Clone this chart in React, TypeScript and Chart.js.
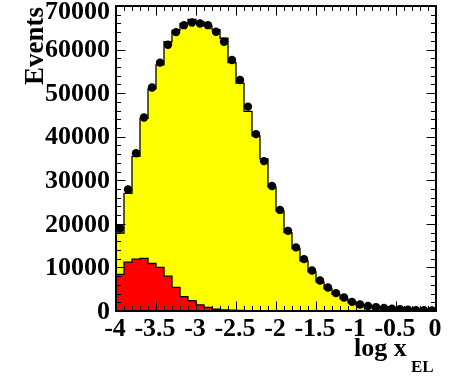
import React, { useEffect, useRef } from "react";
import { Chart, registerables } from "chart.js";

Chart.register(...registerables);

// Bin edges of log x_EL (40 bins from -4 to 0)
const binEdges = [
  -4.0, -3.9, -3.8, -3.7, -3.6, -3.5, -3.4, -3.3, -3.2, -3.1,
  -3.0, -2.9, -2.8, -2.7, -2.6, -2.5, -2.4, -2.3, -2.2, -2.1,
  -2.0, -1.9, -1.8, -1.7, -1.6, -1.5, -1.4, -1.3, -1.2, -1.1,
  -1.0, -0.9, -0.8, -0.7, -0.6, -0.5, -0.4, -0.3, -0.2, -0.1, 0.0,
];

// Data points (black markers)
const dataValues = [
  19000, 27900, 36200, 44400, 51300, 57000, 61100, 64000, 65600, 66200,
  66000, 65600, 64100, 61800, 57600, 53000, 46900, 40600, 34400, 28700,
  23200, 18400, 14600, 11900, 9300, 7000, 5400, 4100, 3100, 2100,
  1500, 1150, 900, 700, 500, 400, 300, 200, 200, 150,
];

// Yellow histogram (total MC)
const yellowValues = [
  17900, 27000, 35500, 44200, 51000, 56500, 61800, 64400, 66000, 66900,
  66400, 65400, 64600, 62600, 57000, 52300, 45800, 40200, 34900, 28500,
  23000, 18000, 14300, 11500, 9000, 6700, 5100, 3800, 2800, 1900,
  1300, 900, 650, 450, 300, 200, 150, 100, 80, 50,
];

// Red histogram (component)
const redValues = [
  8400, 11200, 11900, 12100, 10900, 10000, 8000, 5400, 3300, 2400,
  1400, 850, 400, 250, 180, 120, 90, 70, 50, 40,
  30, 25, 20, 15, 12, 10, 8, 6, 5, 4,
  3, 2, 2, 1, 1, 1, 0, 0, 0, 0,
];

const xTickValues = [-4, -3.5, -3, -2.5, -2, -1.5, -1, -0.5, 0];
const xTickLabels = ["-4", "-3.5", "-3", "-2.5", "-2", "-1.5", "-1", "-0.5", "0"];
const yTickValues = [0, 10000, 20000, 30000, 40000, 50000, 60000, 70000];
const yTickLabels = ["0", "10000", "20000", "30000", "40000", "50000", "60000", "70000"];

const xMinorStep = 0.1;
const yMinorStep = 2000;

const FONT = '"Liberation Serif", "Times New Roman", serif';

function stepData(vals: number[]) {
  return binEdges.map((e, i) => ({ x: e, y: vals[Math.min(i, vals.length - 1)] }));
}

const framePlugin = {
  id: "rootFrame",
  afterDatasetsDraw(chart: any) {
    const { ctx, chartArea: a, scales } = chart;
    const xs = scales.x;
    const ys = scales.y;
    ctx.save();
    ctx.strokeStyle = "#000";
    ctx.lineWidth = 1;
    const majLen = 9.5;
    const minLen = 5;
    const xMin = xs.min, xMax = xs.max;
    const nx = Math.round((xMax - xMin) / xMinorStep);
    for (let i = 0; i <= nx; i++) {
      const v = xMin + i * xMinorStep;
      const px = Math.round(xs.getPixelForValue(v)) + 0.5;
      const isMaj = xTickValues.some((t) => Math.abs(t - v) < 1e-6);
      const len = isMaj ? majLen : minLen;
      ctx.beginPath();
      ctx.moveTo(px, a.bottom);
      ctx.lineTo(px, a.bottom - len);
      ctx.moveTo(px, a.top);
      ctx.lineTo(px, a.top + len);
      ctx.stroke();
    }
    const ny = Math.round((ys.max - ys.min) / yMinorStep);
    for (let i = 0; i <= ny; i++) {
      const v = ys.min + i * yMinorStep;
      const py = Math.round(ys.getPixelForValue(v)) + 0.5;
      const isMaj = yTickValues.some((t) => Math.abs(t - v) < 1e-6);
      const len = isMaj ? majLen : minLen;
      ctx.beginPath();
      ctx.moveTo(a.left, py);
      ctx.lineTo(a.left + len, py);
      ctx.moveTo(a.right, py);
      ctx.lineTo(a.right - len, py);
      ctx.stroke();
    }
    ctx.lineWidth = 2;
    ctx.strokeRect(a.left, a.top, a.right - a.left, a.bottom - a.top);

    ctx.fillStyle = "#000";
    ctx.font = `bold 26px ${FONT}`;
    ctx.textAlign = "center";
    ctx.textBaseline = "middle";
    xTickValues.forEach((v, i) => {
      ctx.fillText(xTickLabels[i], xs.getPixelForValue(v) - 1, a.bottom + 18);
    });
    ctx.textAlign = "right";
    yTickValues.forEach((v, i) => {
      const py = Math.max(ys.getPixelForValue(v) + 1, a.top + 6);
      ctx.fillText(yTickLabels[i], a.left - 6, py);
    });

    ctx.textBaseline = "alphabetic";
    ctx.textAlign = "left";
    ctx.font = `bold 26px ${FONT}`;
    ctx.fillText("log x", a.right - 82, a.bottom + 45);
    ctx.font = `bold 17px ${FONT}`;
    ctx.fillText("EL", a.right - 25, a.bottom + 61);

    ctx.save();
    ctx.translate(a.left - 73, a.top + 79);
    ctx.rotate(-Math.PI / 2);
    ctx.font = `bold 27px ${FONT}`;
    ctx.textAlign = "left";
    ctx.fillText("Events", 0, 0);
    ctx.restore();

    ctx.restore();
  },
};

export default function App() {
  const ref = useRef<HTMLCanvasElement | null>(null);
  useEffect(() => {
    if (!ref.current) return;
    const centers = binEdges.slice(0, -1).map((e, i) => (e + binEdges[i + 1]) / 2);
    const chart = new Chart(ref.current, {
      type: "scatter",
      data: {
        datasets: [
          {
            type: "scatter",
            label: "Data",
            data: centers.map((c, i) => ({ x: c, y: dataValues[i] })),
            pointRadius: 4.2,
            pointBackgroundColor: "#000",
            pointBorderColor: "#000",
            pointBorderWidth: 0,
            order: 0,
          } as any,
          {
            type: "line",
            label: "Red",
            data: stepData(redValues),
            stepped: true,
            pointRadius: 0,
            borderColor: "#000",
            borderWidth: 1.3,
            backgroundColor: "#ff0000",
            fill: "origin",
            order: 1,
          } as any,
          {
            type: "line",
            label: "Yellow",
            data: stepData(yellowValues),
            stepped: true,
            pointRadius: 0,
            borderColor: "#000",
            borderWidth: 1.3,
            backgroundColor: "#ffff00",
            fill: "origin",
            order: 2,
          } as any,
        ],
      },
      options: {
        animation: false,
        responsive: true,
        maintainAspectRatio: false,
        layout: { padding: { left: 116, right: 20, top: 6, bottom: 65 } },
        plugins: { legend: { display: false }, tooltip: { enabled: false } },
        events: [],
        scales: {
          x: { type: "linear", min: -4, max: 0, display: false },
          y: { type: "linear", min: 0, max: 70000, display: false },
        },
      },
      plugins: [framePlugin],
    });
    return () => chart.destroy();
  }, []);
  return (
    <div style={{ position: "fixed", left: 0, top: 0, width: 456, height: 376, background: "#fff" }}>
      <canvas ref={ref} />
    </div>
  );
}
